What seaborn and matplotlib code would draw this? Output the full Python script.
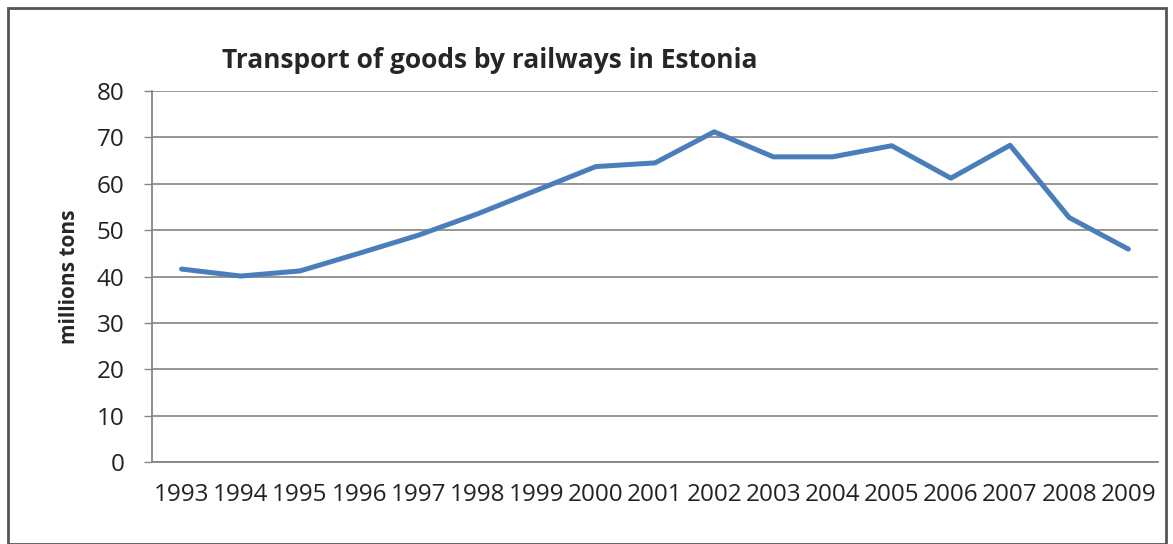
import numpy as np
import pandas as pd
import seaborn as sns
import matplotlib.pyplot as plt
from matplotlib.patches import Rectangle

# values
years = ["1993", "1994", "1995", "1996", "1997", "1998", "1999", "2000", "2001",
         "2002", "2003", "2004", "2005", "2006", "2007", "2008", "2009"]
goods = [41.6, 40.1, 41.2, 45.0, 48.9, 53.5, 58.6, 63.7, 64.5,
         71.2, 65.8, 65.8, 68.2, 61.2, 68.3, 52.7, 45.9]
y_ticks = [0, 10, 20, 30, 40, 50, 60, 70, 80]

df = pd.DataFrame({"year": years, "goods": goods})

sns.set_style("white")
plt.rcParams["font.family"] = ["Open Sans", "DejaVu Sans"]

fig = plt.figure(figsize=(11.73, 5.44), dpi=100)
ax = fig.add_axes([152 / 1173, 1 - 462 / 544, 1006 / 1173, 371 / 544])

sns.lineplot(data=df, x="year", y="goods", ax=ax, color="#4A7EBB", linewidth=3.6)

ax.set_ylim(0, 80)
ax.set_yticks(y_ticks)
ax.set_xlim(-0.5, len(years) - 0.5)
ax.set_xticks(np.arange(-0.5, len(years)), minor=True)
ax.tick_params(axis="x", which="major", length=0, pad=15, labelsize=17.5, colors="#222222")
ax.tick_params(axis="x", which="minor", length=6, width=1, color="#868686")
ax.tick_params(axis="y", length=6, width=1, color="#868686", labelsize=17.5,
               colors="#222222", pad=14)
ax.yaxis.set_tick_params(left=True)
ax.grid(axis="y", color="#8c8c8c", linewidth=1.3)
ax.set_axisbelow(True)
for s in ["top", "right"]:
    ax.spines[s].set_visible(False)
for s in ["left", "bottom"]:
    ax.spines[s].set_color("#868686")
    ax.spines[s].set_linewidth(1.3)

ax.set_xlabel("")
ax.set_ylabel("millions tons", fontsize=15, fontweight="bold", labelpad=12)

fig.text(222 / 1173, 1 - 60 / 544, "Transport of goods by railways in Estonia",
         fontsize=19, fontweight="bold", ha="left", va="center")

# outer chart border
fig.patches.append(Rectangle((8 / 1173, 0), 1158 / 1173, 1 - 8 / 544,
                             transform=fig.transFigure, fill=False,
                             edgecolor="#555555", linewidth=2))

fig.savefig("out.png", dpi=100)
